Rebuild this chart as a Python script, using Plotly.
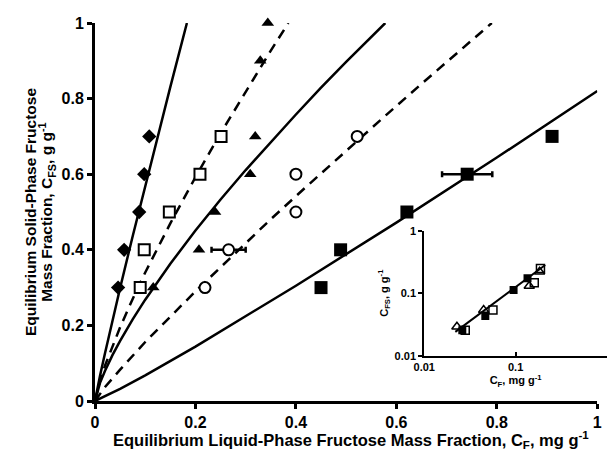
import plotly.graph_objects as go

# ---------------- main plot data ----------------
diam_x = [0.046, 0.058, 0.088, 0.098, 0.108]
diam_y = [0.3, 0.4, 0.5, 0.6, 0.7]

osq_x = [0.090, 0.098, 0.148, 0.209, 0.251]
osq_y = [0.3, 0.4, 0.5, 0.6, 0.7]

tri_x = [0.116, 0.207, 0.239, 0.309, 0.319, 0.329, 0.344]
tri_y = [0.3, 0.4, 0.5, 0.6, 0.7, 0.9, 1.0]

circ_x = [0.219, 0.266, 0.400, 0.400, 0.522]
circ_y = [0.3, 0.4, 0.5, 0.6, 0.7]
circ_err = [0, 0.034, 0, 0, 0]

fsq_x = [0.450, 0.489, 0.621, 0.741, 0.910]
fsq_y = [0.3, 0.4, 0.5, 0.6, 0.7]
fsq_err = [0, 0, 0, 0.05, 0]

# fitted isotherm curves
fit1_x = [0, 0.005, 0.01, 0.02, 0.035, 0.05, 0.075, 0.10, 0.125, 0.15, 0.183]
fit1_y = [0, 0.035, 0.067, 0.127, 0.215, 0.299, 0.436, 0.570, 0.701, 0.831, 1.0]
fit2_x = [0, 0.005, 0.01, 0.02, 0.035, 0.05, 0.075, 0.10, 0.15, 0.20, 0.25, 0.30, 0.35, 0.385]
fit2_y = [0, 0.031, 0.054, 0.094, 0.147, 0.195, 0.270, 0.340, 0.470, 0.592, 0.708, 0.819, 0.927, 1.0]
fit3_x = [0, 0.005, 0.01, 0.02, 0.035, 0.05, 0.075, 0.10, 0.15, 0.20, 0.25, 0.30, 0.35, 0.40, 0.45, 0.50, 0.578]
fit3_y = [0, 0.028, 0.048, 0.080, 0.122, 0.159, 0.216, 0.268, 0.363, 0.451, 0.533, 0.611, 0.686, 0.758, 0.829, 0.897, 1.0]
fit4_x = [0, 0.01, 0.02, 0.05, 0.10, 0.20, 0.30, 0.35, 0.42, 0.50, 0.58, 0.65, 0.72, 0.79]
fit4_y = [0, 0.020, 0.037, 0.083, 0.156, 0.290, 0.418, 0.481, 0.566, 0.662, 0.757, 0.839, 0.919, 1.0]
fit5_x = [0, 0.05, 0.10, 0.20, 0.40, 0.60, 0.80, 1.0]
fit5_y = [0, 0.032, 0.068, 0.144, 0.305, 0.472, 0.644, 0.82]

main_ticks = [0, 0.2, 0.4, 0.6, 0.8, 1]
main_tick_text = ["0", "0.2", "0.4", "0.6", "0.8", "1"]

x_title = "<b>Equilibrium Liquid-Phase Fructose Mass Fraction, C<sub>F</sub>, mg g<sup>-1</sup></b>"
y_title_1 = "<b>Equilibrium Solid-Phase Fructose</b>"
y_title_2 = "<b>Mass Fraction, C<sub>FS</sub>, g g<sup>-1</sup></b>"

# ---------------- inset data ----------------
in_fsq_x = [0.0261, 0.0466, 0.095, 0.135]
in_fsq_y = [0.0256, 0.043, 0.112, 0.173]
in_tri_x = [0.0228, 0.0447, 0.141, 0.183]
in_tri_y = [0.029, 0.0536, 0.130, 0.220]
in_osq_x = [0.0281, 0.0565, 0.160, 0.187]
in_osq_y = [0.0256, 0.0536, 0.147, 0.249]
in_fit_x = [0.0219, 0.211]
in_fit_y = [0.024, 0.282]
inset_ticks = [0.01, 0.1, 1]
inset_tick_text = ["0.01", "0.1", "1"]

FONT = "Liberation Sans, Arial, sans-serif"
BLACK = "black"
DASH = "10px,7px"

fig = go.Figure()

def line(x, y, dash):
    fig.add_trace(go.Scatter(x=x, y=y, mode="lines",
                             line=dict(color=BLACK, width=2.5, dash=dash),
                             showlegend=False, hoverinfo="skip"))

line(fit1_x, fit1_y, "solid")
line(fit2_x, fit2_y, DASH)
line(fit3_x, fit3_y, "solid")
line(fit4_x, fit4_y, DASH)
line(fit5_x, fit5_y, "solid")

def pts(x, y, symbol, size, fill, lw=0, err=None):
    kw = {}
    if err is not None:
        kw["error_x"] = dict(type="data", array=err, visible=True,
                             color=BLACK, thickness=2.5, width=3)
    fig.add_trace(go.Scatter(x=x, y=y, mode="markers", cliponaxis=False,
                             marker=dict(symbol=symbol, size=size, color=fill,
                                         line=dict(color=BLACK, width=lw)),
                             showlegend=False, **kw))

pts(diam_x, diam_y, "diamond", 11, BLACK)
pts(osq_x, osq_y, "square", 11, "white", 2)
pts(tri_x, tri_y, "triangle-up", 11, BLACK)
pts(circ_x, circ_y, "circle", 11, "white", 2, circ_err)
pts(fsq_x, fsq_y, "square", 13, BLACK, 0, fsq_err)

# inset traces
fig.add_trace(go.Scatter(x=in_fit_x, y=in_fit_y, mode="lines", xaxis="x2", yaxis="y2",
                         line=dict(color=BLACK, width=2), showlegend=False))
fig.add_trace(go.Scatter(x=in_fsq_x, y=in_fsq_y, mode="markers", xaxis="x2", yaxis="y2",
                         marker=dict(symbol="square", size=8, color=BLACK),
                         showlegend=False))
fig.add_trace(go.Scatter(x=in_tri_x, y=in_tri_y, mode="markers", xaxis="x2", yaxis="y2",
                         marker=dict(symbol="triangle-up-open", size=9, color=BLACK,
                                     line=dict(width=1.5)),
                         showlegend=False))
fig.add_trace(go.Scatter(x=in_osq_x, y=in_osq_y, mode="markers", xaxis="x2", yaxis="y2",
                         marker=dict(symbol="square-open", size=8, color=BLACK,
                                     line=dict(width=1.5)),
                         showlegend=False))

fig.update_layout(
    width=608, height=453,
    margin=dict(l=95, r=1, t=23, b=52),
    paper_bgcolor="white", plot_bgcolor="white",
    font=dict(family=FONT, color=BLACK, size=16),
    xaxis=dict(domain=[0, 0.981], range=[0, 1], showgrid=False, zeroline=False,
               automargin=False,
               showline=True, linecolor=BLACK, linewidth=3,
               ticks="outside", ticklen=5, tickwidth=2.5, tickcolor=BLACK,
               tickvals=main_ticks, ticktext=main_tick_text,
               tickfont=dict(size=16, family=FONT, weight="bold")),
    yaxis=dict(domain=[0, 1], range=[0, 1], showgrid=False, zeroline=False,
               automargin=False,
               showline=True, linecolor=BLACK, linewidth=3,
               ticks="outside", ticklen=5, tickwidth=2.5, tickcolor=BLACK,
               tickvals=main_ticks, ticktext=main_tick_text,
               tickfont=dict(size=16, family=FONT, weight="bold")),
    xaxis2=dict(domain=[0.643, 1.0], anchor="y2", type="log", range=[-2, 0],
                automargin=False,
                showgrid=False, zeroline=False, showline=True, linecolor=BLACK,
                linewidth=2, ticks="inside", ticklen=4, tickwidth=1.5, tickcolor=BLACK,
                tickvals=inset_ticks, ticktext=inset_tick_text,
                tickfont=dict(size=11, family=FONT, weight="bold"),
                title=dict(text="<b>C<sub>F</sub>, mg g<sup>-1</sup></b>",
                           font=dict(size=11, family=FONT), standoff=2)),
    yaxis2=dict(domain=[0.120, 0.4505], anchor="x2", type="log", range=[-2, 0],
                automargin=False,
                showgrid=False, zeroline=False, showline=True, linecolor=BLACK,
                linewidth=2, ticks="outside", ticklen=4, tickwidth=1.5, tickcolor=BLACK,
                tickvals=inset_ticks, ticktext=inset_tick_text,
                tickfont=dict(size=11, family=FONT, weight="bold"),
                title=dict(text="<b>C<sub>FS</sub>, g g<sup>-1</sup></b>",
                           font=dict(size=11, family=FONT), standoff=4)),
    annotations=[
        dict(text=x_title, xref="paper", yref="paper", x=0.5, y=-0.103,
             xanchor="center", yanchor="middle", showarrow=False,
             font=dict(size=16.5, family=FONT, color=BLACK)),
        dict(text=y_title_1, xref="paper", yref="paper", x=-0.127, y=0.5,
             xanchor="center", yanchor="middle", textangle=-90, showarrow=False,
             font=dict(size=15.5, family=FONT, color=BLACK)),
        dict(text=y_title_2, xref="paper", yref="paper", x=-0.094, y=0.5,
             xanchor="center", yanchor="middle", textangle=-90, showarrow=False,
             font=dict(size=15.5, family=FONT, color=BLACK)),
    ],
)

fig.write_html("out.html")
